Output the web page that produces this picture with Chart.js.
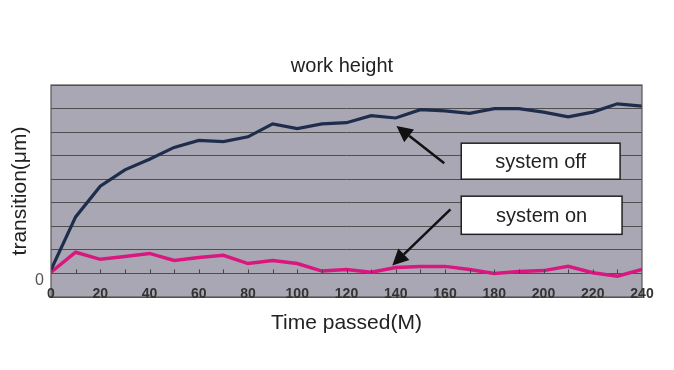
<!DOCTYPE html>
<html lang="en">
<head>
<meta charset="UTF-8">
<title>work height</title>
<script src="https://cdn.jsdelivr.net/npm/chart.js"></script>
<style>
  html, body { margin: 0; padding: 0; background: #fff; }
  #wrap { width: 674px; height: 370px; }
</style>
</head>
<body>
<div id="wrap"><canvas id="chart" width="674" height="370"></canvas></div>
<script>
// time passed (M)
const minutes = [0, 10, 20, 30, 40, 50, 60, 70, 80, 90, 100, 110, 120,
                 130, 140, 150, 160, 170, 180, 190, 200, 210, 220, 230, 240];
// transition (grid units)
const systemOff = [0.15, 2.4, 3.7, 4.4, 4.85, 5.35, 5.65, 5.6, 5.8, 6.35, 6.15, 6.35, 6.4,
                   6.7, 6.6, 6.95, 6.9, 6.8, 7.0, 7.0, 6.85, 6.65, 6.85, 7.2, 7.1];
const systemOn = [0.05, 0.9, 0.6, 0.72, 0.85, 0.55, 0.68, 0.77, 0.42, 0.55, 0.42, 0.1, 0.17,
                  0.05, 0.25, 0.3, 0.3, 0.17, 0.0, 0.08, 0.12, 0.3, 0.03, -0.12, 0.17];
const xTicks = [0, 20, 40, 60, 80, 100, 120, 140, 160, 180, 200, 220, 240];
const yGrid = [-1, 0, 1, 2, 3, 4, 5, 6, 7, 8];

const font = "'Liberation Sans', Arial, sans-serif";

// grey plot background, title, small tick marks on the zero line, arrows and label boxes
const decor = {
    id: 'decor',
    beforeDraw(chart) {
        const a = chart.chartArea, c = chart.ctx;
        c.save();
        c.fillStyle = '#aaa7b5';
        c.fillRect(a.left, a.top, a.right - a.left, a.bottom - a.top);
        c.fillStyle = '#222';
        c.font = '20px ' + font;
        c.textAlign = 'center';
        c.textBaseline = 'middle';
        c.fillText('work height', 342, 66);
        c.restore();
    },
    afterDatasetsDraw(chart) {
        const c = chart.ctx, x = chart.scales.x, y = chart.scales.y, a = chart.chartArea;
        c.save();
        // frame
        c.strokeStyle = '#555';
        c.lineWidth = 1.2;
        c.strokeRect(a.left, a.top, a.right - a.left, a.bottom - a.top);
        // tick marks on zero line
        c.strokeStyle = '#444';
        c.lineWidth = 1;
        const y0 = y.getPixelForValue(0);
        for (let m = 10; m < 240; m += 10) {
            const px = Math.round(x.getPixelForValue(m)) + 0.5;
            c.beginPath();
            c.moveTo(px, y0);
            c.lineTo(px, y0 - 4);
            c.stroke();
        }
        // "0" on the y axis
        c.fillStyle = '#555';
        c.font = '16px ' + font;
        c.textAlign = 'right';
        c.textBaseline = 'middle';
        c.fillText('0', a.left - 7, y0 + 7);
        // x labels sitting on the bottom border
        c.fillStyle = '#333';
        c.font = 'bold 14px ' + font;
        c.textAlign = 'center';
        xTicks.forEach(t => c.fillText(String(t), x.getPixelForValue(t), a.bottom - 3));

        function arrow(x1, y1, x2, y2) {
            const p1 = [x.getPixelForValue(x1), y.getPixelForValue(y1)];
            const p2 = [x.getPixelForValue(x2), y.getPixelForValue(y2)];
            const ang = Math.atan2(p2[1] - p1[1], p2[0] - p1[0]);
            const hl = 16, hw = 8;
            const bx = p2[0] - hl * Math.cos(ang), by = p2[1] - hl * Math.sin(ang);
            c.strokeStyle = '#111';
            c.lineWidth = 2.5;
            c.beginPath();
            c.moveTo(p1[0], p1[1]);
            c.lineTo(bx, by);
            c.stroke();
            c.fillStyle = '#111';
            c.beginPath();
            c.moveTo(p2[0], p2[1]);
            c.lineTo(bx + hw * Math.sin(ang), by - hw * Math.cos(ang));
            c.lineTo(bx - hw * Math.sin(ang), by + hw * Math.cos(ang));
            c.closePath();
            c.fill();
        }
        function box(x1, y1, x2, y2, text) {
            const l = x.getPixelForValue(x1), r = x.getPixelForValue(x2);
            const t = y.getPixelForValue(y1), b = y.getPixelForValue(y2);
            c.fillStyle = '#fff';
            c.fillRect(l, t, r - l, b - t);
            c.strokeStyle = '#222';
            c.lineWidth = 1.5;
            c.strokeRect(l, t, r - l, b - t);
            c.fillStyle = '#222';
            c.font = '20px ' + font;
            c.textAlign = 'center';
            c.textBaseline = 'middle';
            c.fillText(text, (l + r) / 2, (t + b) / 2 + 1);
        }
        arrow(159.7, 4.68, 140.3, 6.26);
        arrow(162.2, 2.72, 138.6, 0.34);
        box(166.6, 5.53, 231.1, 4.0, 'system off');
        box(166.6, 3.28, 231.9, 1.66, 'system on');
        c.restore();
    }
};

new Chart(document.getElementById('chart'), {
    type: 'line',
    data: {
        labels: minutes,
        datasets: [{
            label: 'system off',
            data: systemOff,
            borderColor: '#1f2d4c',
            borderWidth: 3.2,
            pointRadius: 0,
            tension: 0
        }, {
            label: 'system on',
            data: systemOn,
            borderColor: '#d8187f',
            borderWidth: 3.5,
            pointRadius: 0,
            tension: 0
        }]
    },
    options: {
        responsive: false,
        animation: false,
        layout: { padding: { left: 0, right: 32, top: 85, bottom: 0 } },
        scales: {
            x: {
                type: 'linear',
                min: 0,
                max: 240,
                grid: { display: false },
                border: { display: false },
                ticks: { display: false },
                title: {
                    display: true,
                    text: 'Time passed(M)',
                    color: '#222',
                    font: { family: font, size: 21 },
                    padding: { top: 0, bottom: 34 }
                },
                afterFit(scale) { scale.height = 73; }
            },
            y: {
                min: -1,
                max: 8,
                grid: { color: '#4e4e4e', lineWidth: 1, drawTicks: false },
                border: { display: false },
                ticks: {
                    autoSkip: false,
                    font: { size: 8 },
                    callback: () => ''
                },
                afterBuildTicks(scale) {
                    scale.ticks = yGrid.map(v => ({ value: v }));
                },
                title: {
                    display: true,
                    text: 'transition(μm)',
                    color: '#222',
                    font: { family: font, size: 21 },
                    padding: { top: 8, bottom: 0 }
                },
                afterFit(scale) { scale.width = 51; }
            }
        },
        plugins: {
            legend: { display: false },
            tooltip: { enabled: false },
            title: { display: false }
        }
    },
    plugins: [decor]
});
</script>
</body>
</html>
